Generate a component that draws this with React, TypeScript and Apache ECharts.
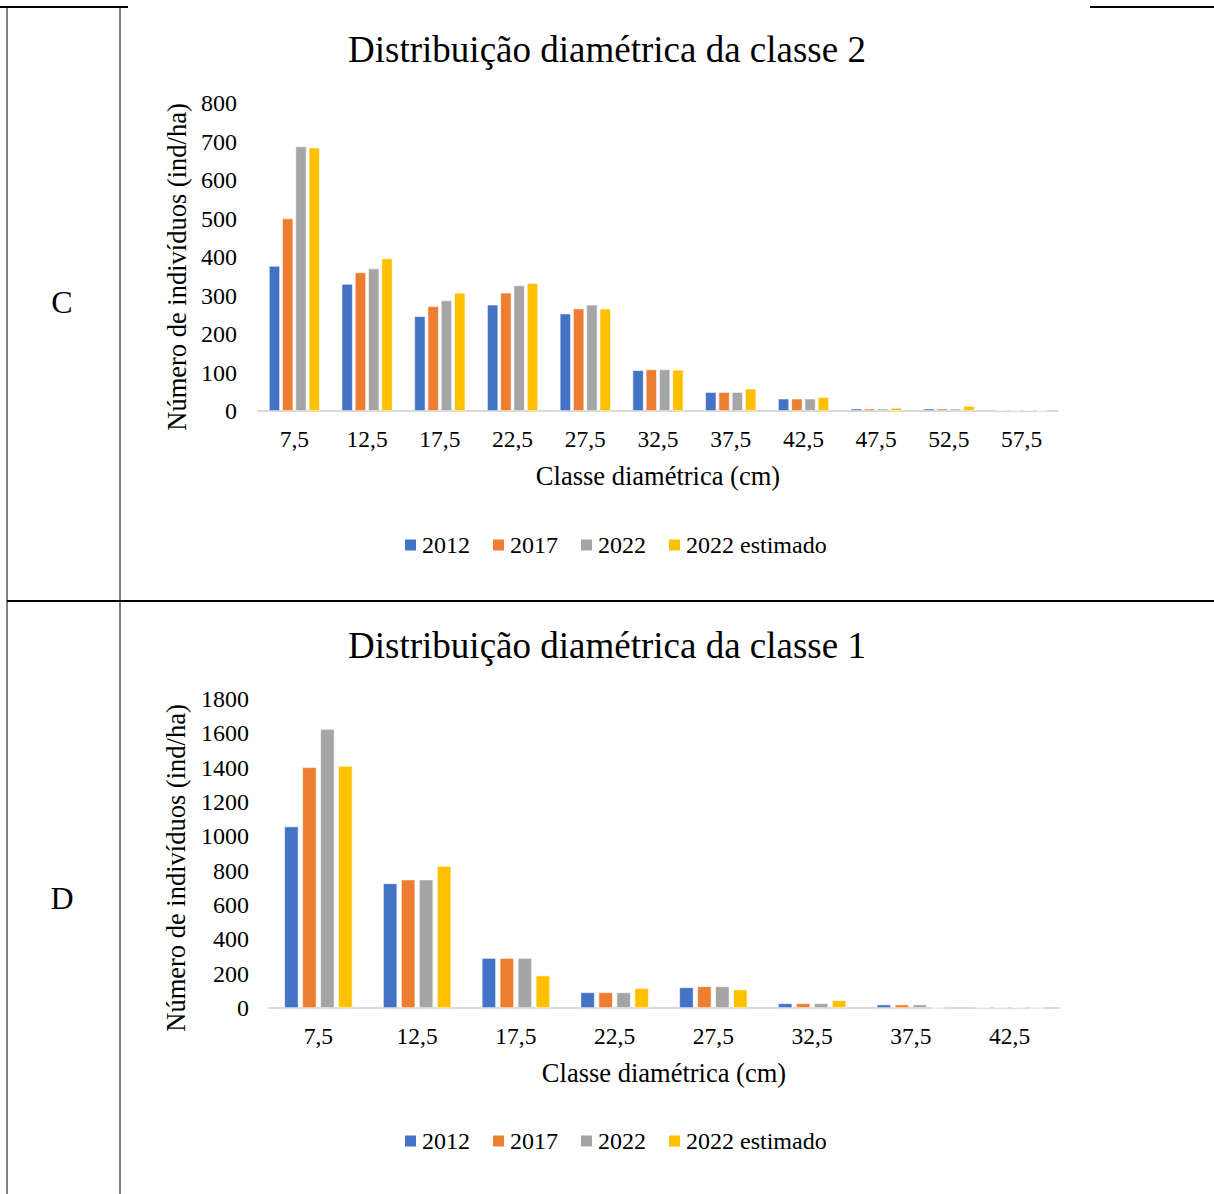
import React, { useEffect, useRef } from "react";
import * as echarts from "echarts";

const FONT = "'Liberation Serif', 'Times New Roman', serif";

const seriesNames = ["2012", "2017", "2022", "2022 estimado"];
const colors = ["#4472C4", "#ED7D31", "#A5A5A5", "#FFC000"];

// Chart C: classe 2
const titleC = "Distribuição diamétrica da classe 2";
const categoriesC = ["7,5", "12,5", "17,5", "22,5", "27,5", "32,5", "37,5", "42,5", "47,5", "52,5", "57,5"];
const c2_2012 = [377, 330, 246, 276, 253, 106, 49, 32, 6, 6, 2];
const c2_2017 = [500, 360, 272, 307, 266, 108, 49, 32, 6, 6, 2];
const c2_2022 = [687, 370, 287, 326, 276, 108, 49, 32, 6, 6, 2];
const c2_est = [684, 396, 307, 332, 266, 107, 58, 36, 8, 13, 1];

// Chart D: classe 1
const titleD = "Distribuição diamétrica da classe 1";
const categoriesD = ["7,5", "12,5", "17,5", "22,5", "27,5", "32,5", "37,5", "42,5"];
const c1_2012 = [1057, 726, 291, 91, 120, 27, 20, 4];
const c1_2017 = [1402, 748, 291, 91, 126, 27, 20, 4];
const c1_2022 = [1625, 748, 291, 91, 126, 27, 20, 4];
const c1_est = [1410, 827, 189, 115, 107, 45, 1, 1];

const yAxisName = "Número de indivíduos (ind/ha)";
const xAxisName = "Classe diamétrica (cm)";

export default function App() {
  const ref = useRef<HTMLDivElement>(null);

  useEffect(() => {
    if (!ref.current) return;
    const chart = echarts.init(ref.current, null, { renderer: "svg" });

    const dataC = [c2_2012, c2_2017, c2_2022, c2_est];
    const dataD = [c1_2012, c1_2017, c1_2022, c1_est];

    const mkSeries = (data: number[][], idx: number, gap: string, catGap: string) =>
      data.map((d, i) => ({
        type: "bar",
        name: seriesNames[i],
        xAxisIndex: idx,
        yAxisIndex: idx,
        data: d,
        barGap: gap,
        barCategoryGap: catGap,
        itemStyle: { color: colors[i], borderColor: "#ffffff", borderWidth: 0.6 },
      }));

    const line = (x1: number, y1: number, x2: number, y2: number, w: number) => ({
      type: "line",
      shape: { x1, y1, x2, y2 },
      style: { stroke: "#000", lineWidth: w },
      silent: true,
    });

    const xAxisBase = (cats: string[], idx: number) => ({
      type: "category",
      gridIndex: idx,
      data: cats,
      axisLine: { lineStyle: { color: "#d9d9d9", width: 2 } },
      axisTick: { show: false },
      axisLabel: { color: "#000", fontFamily: FONT, fontSize: 23.5, margin: 16 },
      name: xAxisName,
      nameLocation: "middle",
      nameGap: 51,
      nameTextStyle: { color: "#000", fontFamily: FONT, fontSize: 26.5 },
    });

    const yAxisBase = (idx: number, max: number, interval: number, gap: number, margin: number, shiftPad: number) => ({
      type: "value",
      gridIndex: idx,
      min: 0,
      max,
      interval,
      axisLine: { show: false },
      axisTick: { show: false },
      splitLine: { show: false },
      axisLabel: {
        color: "#000",
        fontFamily: FONT,
        fontSize: 24,
        margin,
        formatter: (v: number) => String(v),
      },
      name: yAxisName,
      nameLocation: "middle",
      nameRotate: 90,
      nameGap: gap,
      nameTextStyle: { color: "#000", fontFamily: FONT, fontSize: 26.5, padding: [0, shiftPad, 0, 0] },
    });

    const legendBase = (top: number) => ({
      data: seriesNames,
      top,
      left: 398,
      icon: "rect",
      itemWidth: 13,
      itemHeight: 13,
      itemGap: 21,
      textStyle: { color: "#000", fontFamily: FONT, fontSize: 24 },
    });

    chart.setOption({
      animation: false,
      backgroundColor: "#ffffff",
      title: [
        {
          text: titleC,
          left: "center",
          top: 31,
          padding: 0,
          textStyle: { color: "#000", fontFamily: FONT, fontSize: 37, fontWeight: "normal" },
        },
        {
          text: titleD,
          left: "center",
          top: 627,
          padding: 0,
          textStyle: { color: "#000", fontFamily: FONT, fontSize: 37, fontWeight: "normal" },
        },
      ],
      legend: [legendBase(528), legendBase(1124)],
      grid: [
        { left: 258, right: 156, top: 103, height: 308, containLabel: false },
        { left: 269, right: 155, top: 699, height: 309, containLabel: false },
      ],
      xAxis: [xAxisBase(categoriesC, 0), xAxisBase(categoriesD, 1)],
      yAxis: [yAxisBase(0, 800, 100, 67, 21, 20), yAxisBase(1, 1800, 200, 80, 20, 29)],
      series: [
        ...mkSeries(dataC, 0, "20%", "30%"),
        ...mkSeries(dataD, 1, "27%", "31%"),
      ],
      graphic: [
        line(0, 7, 128, 7, 2),
        line(1090, 7, 1214, 7, 2),
        line(7, 7, 7, 1194, 1),
        line(120, 7, 120, 1194, 1),
        line(7, 601, 1214, 601, 2),
        {
          type: "text",
          x: 62,
          y: 302,
          style: { text: "C", fill: "#000", font: `32px ${FONT}`, textAlign: "center", textVerticalAlign: "middle" },
        },
        {
          type: "text",
          x: 62,
          y: 898,
          style: { text: "D", fill: "#000", font: `32px ${FONT}`, textAlign: "center", textVerticalAlign: "middle" },
        },
      ],
    });

    return () => chart.dispose();
  }, []);

  return (
    <div
      ref={ref}
      style={{ position: "absolute", left: 0, top: 0, width: 1214, height: 1194, background: "#fff" }}
    />
  );
}
